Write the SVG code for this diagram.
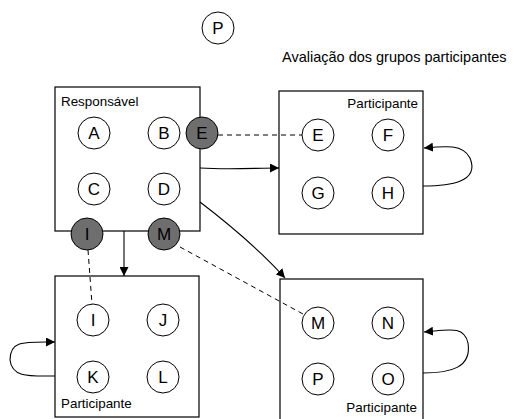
<svg xmlns="http://www.w3.org/2000/svg" width="514" height="419" viewBox="0 0 514 419">
<defs>
<style>
.box{fill:#fff;stroke:#000;stroke-width:1.2}
.c{fill:#fff;stroke:#000;stroke-width:1}
.g{fill:#6e6e6e;stroke:#000;stroke-width:1}
.t{font-family:"Liberation Sans",Arial,sans-serif;font-size:17px;text-anchor:middle;fill:#000}
.lbl{font-family:"Liberation Sans",Arial,sans-serif;font-size:13.4px;fill:#000}
.ln{fill:none;stroke:#000;stroke-width:1.1}
.d{fill:none;stroke:#000;stroke-width:1;stroke-dasharray:5,4}
</style>
<marker id="ah" viewBox="0 0 10 10" refX="10" refY="5" markerWidth="9" markerHeight="9" markerUnits="userSpaceOnUse" orient="auto"><path d="M0,0 L10,5 L0,10 z" fill="#000"/></marker>
</defs>
<g id="p-top"><circle class="c" cx="218" cy="28" r="16"/><text class="t" x="218" y="34">P</text></g>
<text class="lbl" x="282" y="62" style="font-size:14.5px">Avaliação dos grupos participantes</text>

<g id="responsavel">
<rect class="box" x="55" y="87" width="145" height="144"/>
<text class="lbl" x="61" y="106">Responsável</text>
<circle class="c" cx="94" cy="133" r="16"/><text class="t" x="94" y="139">A</text>
<circle class="c" cx="164" cy="133" r="16"/><text class="t" x="164" y="139">B</text>
<circle class="c" cx="94" cy="189" r="16"/><text class="t" x="94" y="195">C</text>
<circle class="c" cx="164" cy="189" r="16"/><text class="t" x="164" y="195">D</text>
</g>

<g id="part1">
<rect class="box" x="279" y="91" width="144" height="143"/>
<text class="lbl" x="418" y="108" text-anchor="end">Participante</text>
<circle class="c" cx="318" cy="135" r="16"/><text class="t" x="318" y="141">E</text>
<circle class="c" cx="388" cy="135" r="16"/><text class="t" x="388" y="141">F</text>
<circle class="c" cx="318" cy="193" r="16"/><text class="t" x="318" y="199">G</text>
<circle class="c" cx="388" cy="193" r="16"/><text class="t" x="388" y="199">H</text>
</g>

<g id="part2">
<rect class="box" x="55" y="276" width="144" height="141"/>
<text class="lbl" x="61" y="408">Participante</text>
<circle class="c" cx="93" cy="320" r="16"/><text class="t" x="93" y="326">I</text>
<circle class="c" cx="163" cy="320" r="16"/><text class="t" x="163" y="326">J</text>
<circle class="c" cx="93" cy="377" r="16"/><text class="t" x="93" y="383">K</text>
<circle class="c" cx="163" cy="377" r="16"/><text class="t" x="163" y="383">L</text>
</g>

<g id="part3">
<rect class="box" x="280" y="279" width="143" height="150"/>
<text class="lbl" x="417" y="412" text-anchor="end">Participante</text>
<circle class="c" cx="318" cy="323" r="16"/><text class="t" x="318" y="329">M</text>
<circle class="c" cx="388" cy="323" r="16"/><text class="t" x="388" y="329">N</text>
<circle class="c" cx="318" cy="379" r="16"/><text class="t" x="318" y="385">P</text>
<circle class="c" cx="388" cy="379" r="16"/><text class="t" x="388" y="385">O</text>
</g>

<g id="connectors">
<line class="d" x1="218" y1="135" x2="302" y2="135"/>
<line class="d" x1="88" y1="250" x2="92" y2="304"/>
<line class="d" x1="180" y1="247" x2="303" y2="314"/>
<path class="ln" d="M200,168 C230,170 255,168 279,168" marker-end="url(#ah)"/>
<path class="ln" d="M200,202 C230,225 260,250 285,278" marker-end="url(#ah)"/>
<line class="ln" x1="124" y1="231" x2="124" y2="276" marker-end="url(#ah)"/>
<path class="ln" d="M423,186 C450,186 480,182 470,158 C463,144 445,146 424,148" marker-end="url(#ah)"/>
<path class="ln" d="M423,373 C450,373 472,368 468,343 C464,325 448,330 424,332" marker-end="url(#ah)"/>
<path class="ln" d="M55,376 C30,376 12,378 10,360 C10,340 25,342 55,342" marker-end="url(#ah)"/>
</g>

<g id="gray-e"><circle class="g" cx="202" cy="133" r="16"/><text class="t" x="202" y="139">E</text></g>
<g id="gray-i"><circle class="g" cx="87" cy="234" r="16"/><text class="t" x="87" y="240">I</text></g>
<g id="gray-m"><circle class="g" cx="164" cy="234" r="16"/><text class="t" x="164" y="240">M</text></g>
</svg>
